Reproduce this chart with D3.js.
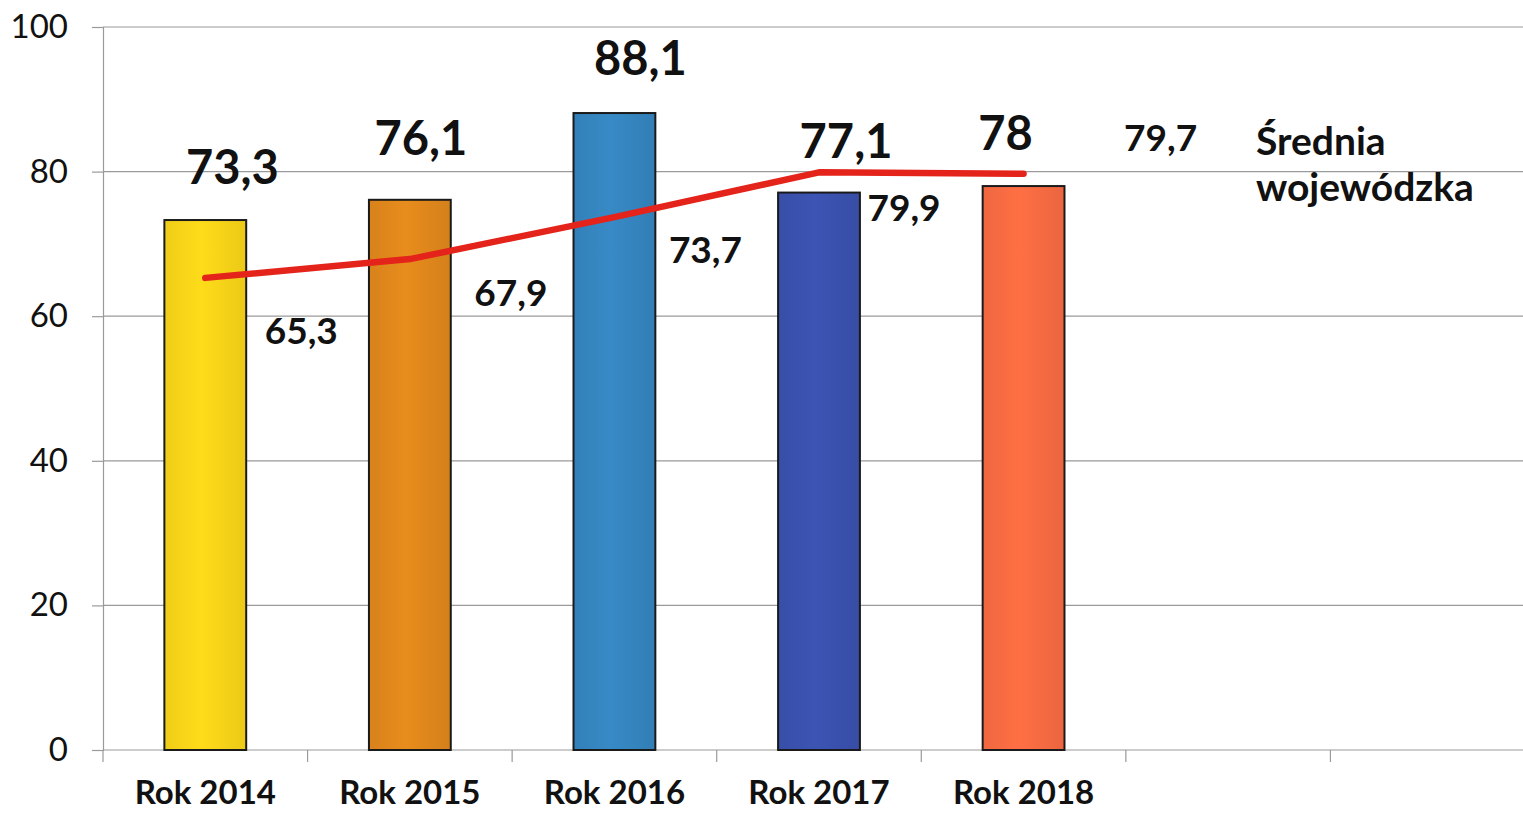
<!DOCTYPE html>
<html>
<head>
<meta charset="utf-8">
<script src="https://cdn.jsdelivr.net/npm/d3@7"></script>
<style>
  html, body { margin: 0; padding: 0; background: #fff; }
  svg { display: block; }
</style>
</head>
<body>
<svg id="chart" width="1523" height="813"></svg>
<script>
// ---- data ----
const categories = ["Rok 2014", "Rok 2015", "Rok 2016", "Rok 2017", "Rok 2018"];
const emptySlots = ["", " "];
const barValues = [73.3, 76.1, 88.1, 77.1, 78];
const avgValues = [65.3, 67.9, 73.7, 79.9, 79.7];
const barLabels = ["73,3", "76,1", "88,1", "77,1", "78"];
const avgLabels = ["65,3", "67,9", "73,7", "79,9", "79,7"];
const yTicks = [0, 20, 40, 60, 80, 100];
const legendLines = ["Średnia", "wojewódzka"];
const barColors = ["#f8d418", "#e0871c", "#3585bf", "#3a51ae", "#f86b42"];

// ---- layout ----
const svg = d3.select("#chart");
const m = { left: 103, right: 1535, top: 27, bottom: 750 };
const font = "Lato, 'Open Sans', sans-serif";

const x = d3.scaleBand().domain(categories.concat(emptySlots)).range([m.left, m.right]).padding(0);
const y = d3.scaleLinear().domain([0, 100]).range([m.bottom, m.top]);
const bw = x.bandwidth() * 0.4;
const cx = c => x(c) + x.bandwidth() / 2;

// gradients
const defs = svg.append("defs");
barColors.forEach((c, i) => {
  const g = defs.append("linearGradient").attr("id", "g" + i).attr("x1", "0").attr("x2", "1").attr("y1", "0").attr("y2", "0");
  const col = d3.color(c);
  g.append("stop").attr("offset", "0%").attr("stop-color", col.darker(0.1));
  g.append("stop").attr("offset", "45%").attr("stop-color", col.brighter(0.1));
  g.append("stop").attr("offset", "100%").attr("stop-color", col.darker(0.15));
});

// gridlines
svg.append("g").selectAll("line").data(yTicks).join("line")
  .attr("x1", m.left).attr("x2", 1523)
  .attr("y1", d => y(d)).attr("y2", d => y(d))
  .attr("stroke", "#9a9a9a").attr("stroke-width", 1.2);

// y axis
const yAxis = svg.append("g").attr("transform", `translate(${m.left},0)`)
  .call(d3.axisLeft(y).tickValues(yTicks).tickSize(11).tickPadding(24));
yAxis.select(".domain").attr("stroke", "#9a9a9a").attr("stroke-width", 1.2);
yAxis.selectAll(".tick line").attr("stroke", "#9a9a9a").attr("stroke-width", 1.2);
yAxis.selectAll(".tick text").attr("font-family", font).attr("font-size", 33).attr("fill", "#111");

// x axis
const xAxis = svg.append("g").attr("transform", `translate(0,${m.bottom})`)
  .call(d3.axisBottom(x).tickSize(0).tickPadding(31));
xAxis.select(".domain").remove();
xAxis.selectAll(".tick text").attr("font-family", font).attr("font-weight", "bold").attr("font-size", 33).attr("fill", "#111");
// category boundary ticks
svg.append("g").selectAll("line").data(x.domain()).join("line")
  .attr("x1", d => x(d)).attr("x2", d => x(d))
  .attr("y1", m.bottom).attr("y2", m.bottom + 12)
  .attr("stroke", "#9a9a9a").attr("stroke-width", 1.2);

// bars
svg.append("g").selectAll("rect").data(barValues).join("rect")
  .attr("x", (d, i) => cx(categories[i]) - bw / 2)
  .attr("width", bw)
  .attr("y", d => y(d))
  .attr("height", d => y(0) - y(d))
  .attr("fill", (d, i) => `url(#g${i})`)
  .attr("stroke", "#1a1a1a").attr("stroke-width", 2);

// average line
const line = d3.line().x((d, i) => cx(categories[i])).y(d => y(d));
svg.append("path").datum(avgValues)
  .attr("d", line)
  .attr("fill", "none").attr("stroke", "#e4231b").attr("stroke-width", 6.5)
  .attr("stroke-linecap", "round").attr("stroke-linejoin", "round");

// bar value labels (nudged as in original)
const barNudge = [27, 11, 26, 27, -18];
const barGap = [36, 45, 38, 35, 36];
svg.append("g").selectAll("text").data(barValues).join("text")
  .attr("x", (d, i) => cx(categories[i]) + barNudge[i])
  .attr("y", (d, i) => y(d) - barGap[i])
  .attr("text-anchor", "middle")
  .attr("font-family", font).attr("font-weight", "bold").attr("font-size", 47).attr("fill", "#111")
  .text((d, i) => barLabels[i]);

// average value labels
const avgDx = [96, 101, 91, 85, 137];
const avgDy = [66, 47, 46, 49, -23];
svg.append("g").selectAll("text").data(avgValues).join("text")
  .attr("x", (d, i) => cx(categories[i]) + avgDx[i])
  .attr("y", (d, i) => y(d) + avgDy[i])
  .attr("text-anchor", "middle")
  .attr("font-family", font).attr("font-weight", "bold").attr("font-size", 37).attr("fill", "#111")
  .text((d, i) => avgLabels[i]);

// legend text
svg.append("g").selectAll("text").data(legendLines).join("text")
  .attr("x", 1256).attr("y", (d, i) => 155 + i * 46)
  .attr("font-family", font).attr("font-weight", "bold").attr("font-size", 39).attr("fill", "#111")
  .text(d => d);
</script>
</body>
</html>
